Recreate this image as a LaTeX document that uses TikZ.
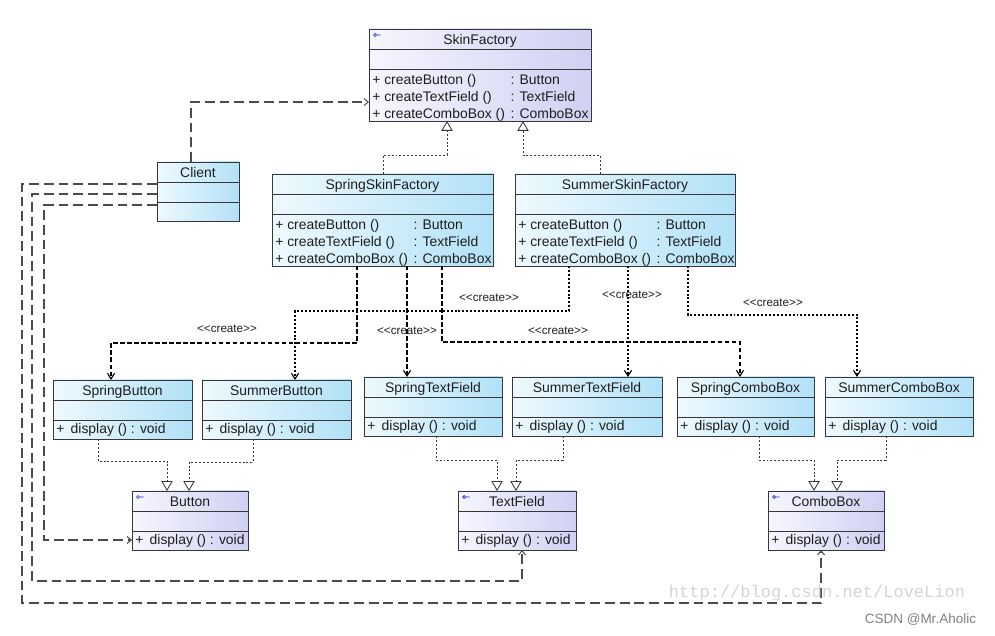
\documentclass[tikz,border=0pt]{standalone}
\usepackage{fontspec}
\setmainfont{Liberation Sans}
\newfontfamily\markfont{Liberation Mono}
\usepackage{tikz}
\usetikzlibrary{arrows.meta,  % pointes de fleches
           calc}               % calculs de coordonnees
\definecolor{clsA}{RGB}{238,249,254}
\definecolor{clsB}{RGB}{178,225,247}
\definecolor{ifcA}{RGB}{246,246,255}
\definecolor{ifcB}{RGB}{208,208,243}
\definecolor{edge}{RGB}{55,55,55}
\definecolor{usegray}{RGB}{75,75,75}
\definecolor{txt}{RGB}{30,30,30}
\definecolor{keyblue}{RGB}{40,40,205}
% boite UML : nom, style, gauche, haut, largeur, hauteur des operations, titre, operations
\newcommand\umlbox[8]{%
  \node[#2,minimum width=#5*0.025cm,minimum height=(40+#6)*0.025cm,anchor=north west] (#1) at (#3,#4) {};
  \draw[boxedge] ($(#1.north west)+(0,20)$) -- +(#5,0) ($(#1.north west)+(0,40)$) -- +(#5,0);
  \node[clsname] (#1-name) at ($(#1.north)+(0,15.5)$) {#7};
  \node[methods] (#1-ops) at ($(#1.north west)+(3,43)$) {#8};}
\newcommand\umlkey[1]{\draw[keyblue,line width=0.5pt] ($(#1.north west)+(6,6)$) circle[radius=1.5] ++(1.5,0) -- ++(4,0);}
\newcommand\createops{\begin{tabular}{@{}l@{\hspace{4pt}}l@{}}
+ createButton () & : Button\\
+ createTextField () & : TextField\\
+ createComboBox () & : ComboBox\end{tabular}}
\newcommand\displayop{+\hspace{0.45em}display () : void}
\newcommand\stereotype[1]{<\kern0pt<#1>\kern0pt>}

\begin{document}
\begin{tikzpicture}[x=0.025cm,y=-0.025cm,
  boxedge/.style={draw=edge,line width=0.6pt},
  cls/.style={boxedge,left color=clsA,right color=clsB,inner sep=0pt,outer sep=0pt},
  ifc/.style={boxedge,left color=ifcA,right color=ifcB,inner sep=0pt,outer sep=0pt},
  clsname/.style={font=\fontsize{9.9}{12}\selectfont,text=txt,anchor=base,inner sep=0pt},
  methods/.style={font=\fontsize{9.9}{12.1}\selectfont,text=txt,inner sep=0pt,anchor=north west},
  stereo/.style={font=\fontsize{8.3}{10}\selectfont,text=txt,inner sep=0pt},
  usedep/.style={draw=usegray,line width=0.8pt,dash pattern=on 7pt off 3.5pt,-{Straight Barb[length=3pt,width=5pt,line width=0.7pt]}},
  realize/.style={draw=edge,line width=0.6pt,dash pattern=on 1.4pt off 1.4pt,-{Triangle[open,length=7pt,width=8pt]}},
  createA/.style={draw=black,line width=1.3pt,dash pattern=on 3.2pt off 1.8pt,-{Straight Barb[length=4pt,width=5pt,line width=0.8pt]}},
  createB/.style={draw=black,line width=1.4pt,dash pattern=on 1.4pt off 1.4pt,-{Straight Barb[length=4pt,width=5pt,line width=0.8pt]}}]
\useasboundingbox (0,0) rectangle (995,636);
% fabriques
\umlbox{SF}{ifc}{369}{29}{222}{52}{SkinFactory}{\createops}\umlkey{SF}
\umlbox{CL}{cls}{157}{162}{82}{19}{Client}{}
\umlbox{SSF}{cls}{272}{174}{221}{52}{SpringSkinFactory}{\createops}
\umlbox{SumSF}{cls}{515}{174}{220}{52}{SummerSkinFactory}{\createops}
% produits concrets
\umlbox{SB}{cls}{53}{380}{139}{19}{SpringButton}{\displayop}
\umlbox{SuB}{cls}{202}{380}{149}{19}{SummerButton}{\displayop}
\umlbox{STF}{cls}{364}{377}{138}{19}{SpringTextField}{\displayop}
\umlbox{SuTF}{cls}{512}{377}{150}{19}{SummerTextField}{\displayop}
\umlbox{SCB}{cls}{677}{377}{137}{19}{SpringComboBox}{\displayop}
\umlbox{SuCB}{cls}{825}{377}{148}{19}{SummerComboBox}{\displayop}
% produits abstraits
\umlbox{Bt}{ifc}{132}{491}{116}{19}{Button}{\displayop}\umlkey{Bt}
\umlbox{TF}{ifc}{458}{491}{118}{19}{TextField}{\displayop}\umlkey{TF}
\umlbox{CB}{ifc}{768}{491}{116}{19}{ComboBox}{\displayop}\umlkey{CB}
% le client utilise tout
\draw[usedep] ($(CL.north west)+(34,0)$) |- ($(SF.north west)+(0,73)$);
\draw[usedep] ($(CL.north west)+(0,43)$) -- ++(-113,0) |- ($(Bt.north west)+(0,49)$);
\draw[usedep] ($(CL.north west)+(0,32)$) -- ++(-125,0) |- ($(TF.south west)+(64,31)$) -- ($(TF.south west)+(64,0)$);
\draw[usedep] ($(CL.north west)+(0,22)$) -- ++(-135,0) |- ($(CB.south west)+(53,53)$) -- ($(CB.south west)+(53,0)$);
% realisations
\draw[realize] ($(SSF.north west)+(111,0)$) -- ++(0,-19) -| ($(SF.south west)+(78,0)$);
\draw[realize] ($(SumSF.north west)+(85,0)$) -- ++(0,-19) -| ($(SF.south west)+(154,0)$);
\draw[realize] ($(SB.south west)+(45,0)$) -- ++(0,22) -| ($(Bt.north west)+(35,0)$);
\draw[realize] ($(SuB.south west)+(51,0)$) -- ++(0,23) -| ($(Bt.north west)+(57,0)$);
\draw[realize] ($(STF.south west)+(72,0)$) -- ++(0,24) -| ($(TF.north west)+(39,0)$);
\draw[realize] ($(SuTF.south west)+(51,0)$) -- ++(0,24) -| ($(TF.north west)+(58,0)$);
\draw[realize] ($(SCB.south west)+(82,0)$) -- ++(0,24) -| ($(CB.north west)+(46,0)$);
\draw[realize] ($(SuCB.south west)+(61,0)$) -- ++(0,24) -| ($(CB.north west)+(69,0)$);
% creations
\draw[createA] ($(SSF.south west)+(85,0)$) |- ($(SB.north west)+(58,-37)$) -- ($(SB.north west)+(58,0)$);
\draw[createA] ($(SSF.south west)+(135,0)$) -- ($(STF.north west)+(43,0)$);
\draw[createA] ($(SSF.south west)+(170,0)$) |- ($(SCB.north west)+(63,-35)$) -- ($(SCB.north west)+(63,0)$);
\draw[createB] ($(SumSF.south west)+(54,0)$) |- ($(SuB.north west)+(93,-69)$) -- ($(SuB.north west)+(93,0)$);
\draw[createB] ($(SumSF.south west)+(113,0)$) -- ($(SuTF.north west)+(116,0)$);
\draw[createB] ($(SumSF.south west)+(173,0)$) |- ($(SuCB.north west)+(32,-62)$) -- ($(SuCB.north west)+(32,0)$);
\node[stereo] (cSB) at (227,329) {\stereotype{create}};
\node[stereo] (cSTF) at (407,331) {\stereotype{create}};
\node[stereo] (cSCB) at (558,331) {\stereotype{create}};
\node[stereo] (cSuB) at (489,298) {\stereotype{create}};
\node[stereo] (cSuTF) at (632,295) {\stereotype{create}};
\node[stereo] (cSuCB) at (773,303) {\stereotype{create}};
% filigranes
\node[text=black!17,font=\markfont\fontsize{12.1}{14}\selectfont] (wm) at (817,593) {http://blog.csdn.net/LoveLion};
\node[text=black!50,font=\fontsize{9.6}{12}\selectfont,anchor=east] (sig) at (981,620) {CSDN @Mr.Aholic};
\end{tikzpicture}
\end{document}
